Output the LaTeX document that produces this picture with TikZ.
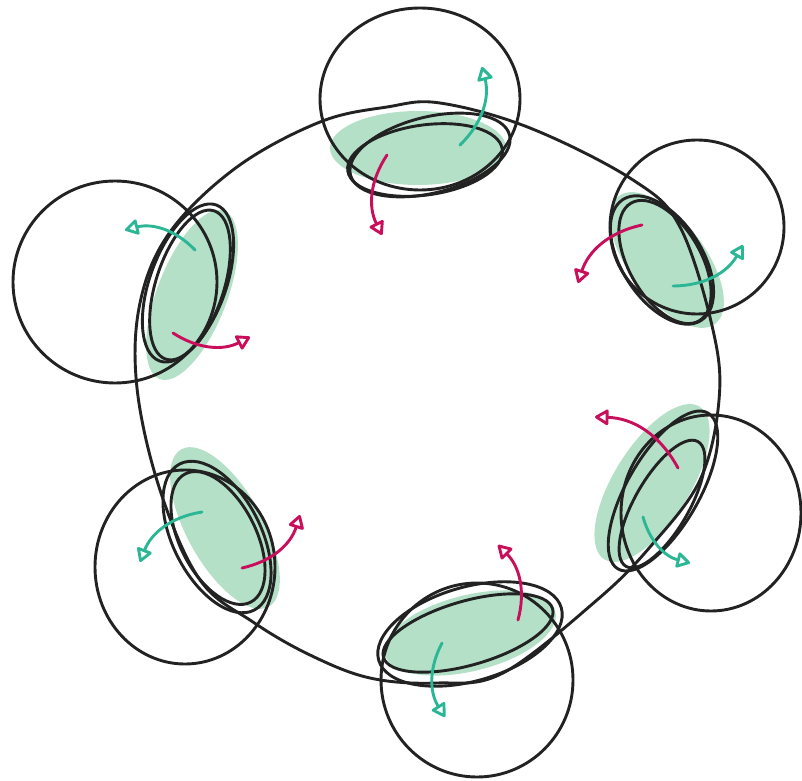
\documentclass[tikz,border=0pt]{standalone}
\usepackage{tikz}
\usetikzlibrary{arrows.meta}

\definecolor{mint}{HTML}{B4E0C8}
\definecolor{seafoam}{HTML}{2BB795}
\definecolor{berry}{HTML}{C90F5B}
\definecolor{ink}{HTML}{222222}

\begin{document}
\begin{tikzpicture}[x=1pt,y=1pt,
    rim/.style={ink, line width=2.9pt},
    patch/.style={mint},
    seaarrow/.style={seafoam, line width=2.9pt, line cap=round,
      -{Triangle[open,round,length=15pt,width=17pt]}},
    berryarrow/.style={berry, line width=2.9pt, line cap=round,
      -{Triangle[open,round,length=15pt,width=17pt]}}]
    \useasboundingbox (0,0) rectangle (802,780);

    % green patches
    \fill[patch] (418,632) ellipse [x radius=88, y radius=37];
    \fill[patch, rotate around={-53:(667,520)}] (667,520) ellipse [x radius=80, y radius=38];
    \fill[patch, rotate around={69:(192,485)}] (192,485) ellipse [x radius=90, y radius=35];
    \fill[patch, rotate around={58:(652,297)}] (652,297) ellipse [x radius=90, y radius=38];
    \fill[patch, rotate around={14:(470,147)}] (470,147) ellipse [x radius=88, y radius=38];
    \fill[patch, rotate around={-61:(225,252)}] (225,252) ellipse [x radius=90, y radius=38];

    % big ring
    \draw[rim] plot[smooth cycle, tension=0.6] coordinates {
      (440,677) (530,652) (633,600) (680,553) (713,450) (719,380)
      (700,300) (650,233) (597,180) (503,107) (437,97) (370,102)
      (310,125) (253,158) (200,200) (160,290) (137,392) (140,477)
      (170,548) (237,613) (320,658) (387,673)};

    % small rings
    \draw[rim] (420,681) ellipse [x radius=100, y radius=91];
    \draw[rim] (697,553) ellipse [x radius=87, y radius=87];
    \draw[rim] (115,498) ellipse [x radius=102, y radius=101];
    \draw[rim] (711,267) ellipse [x radius=90, y radius=98];
    \draw[rim] (477,100) ellipse [x radius=96, y radius=97];
    \draw[rim] (185,213) ellipse [x radius=90, y radius=97];

    % double lids
    \draw[rim, rotate around={14:(430,625)}] (430,625) ellipse [x radius=82, y radius=38];
    \draw[rim, rotate around={8:(425,620)}] (425,620) ellipse [x radius=78, y radius=35];
    \draw[rim, rotate around={-57:(662,520)}] (662,520) ellipse [x radius=72, y radius=40];
    \draw[rim, rotate around={-60:(665,518)}] (665,518) ellipse [x radius=68, y radius=36];
    \draw[rim, rotate around={70:(188,497)}] (188,497) ellipse [x radius=83, y radius=38];
    \draw[rim, rotate around={72:(190,495)}] (190,495) ellipse [x radius=78, y radius=34];
    \draw[rim, rotate around={60:(663,289)}] (663,289) ellipse [x radius=90, y radius=36];
    \draw[rim, rotate around={60:(662,276)}] (662,276) ellipse [x radius=72, y radius=27];
    \draw[rim, rotate around={16:(470,146)}] (470,146) ellipse [x radius=95, y radius=47];
    \draw[rim, rotate around={16:(468,147)}] (468,147) ellipse [x radius=88, y radius=32];
    \draw[rim, rotate around={-63:(217,243)}] (217,243) ellipse [x radius=82, y radius=44];
    \draw[rim, rotate around={-63:(218,242)}] (218,242) ellipse [x radius=72, y radius=38];

    % arrows
    \draw[seaarrow] (460,635) to[bend right=30] (482,713);
    \draw[berryarrow] (387,625) to[bend right=30] (382,545);
    \draw[berryarrow] (642,555) to[bend right=30] (578,497);
    \draw[seaarrow] (673,494) to[bend right=30] (743,535);
    \draw[seaarrow] (195,530) to[bend right=30] (125,550);
    \draw[berryarrow] (173,447) to[bend right=30] (250,443);
    \draw[berryarrow] (678,312) to[bend right=30] (595,363);
    \draw[seaarrow] (643,263) to[bend right=30] (690,217);
    \draw[berryarrow] (518,160) to[bend right=30] (498,235);
    \draw[seaarrow] (442,137) to[bend right=30] (445,63);
    \draw[seaarrow] (202,268) to[bend right=30] (140,218);
    \draw[berryarrow] (242,212) to[bend right=30] (300,265);
\end{tikzpicture}
\end{document}
